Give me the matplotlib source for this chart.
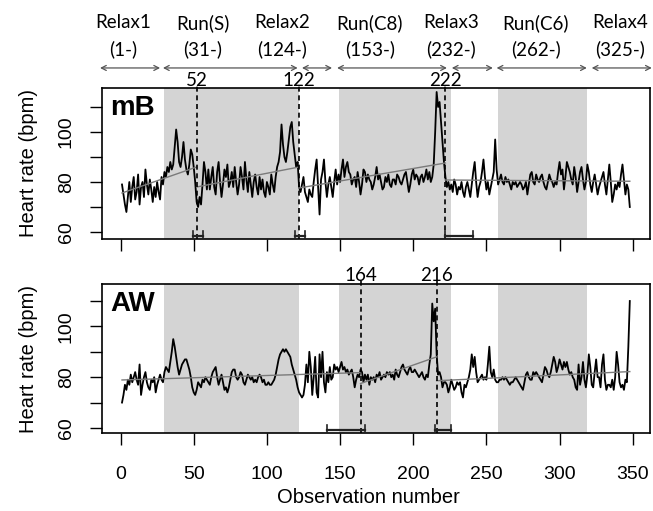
import numpy as np
import matplotlib
matplotlib.use("Agg")
import matplotlib.pyplot as plt
import matplotlib.transforms as mtransforms

# ---------------- data ----------------
hr_mB = [
    79, 75, 71, 68, 74, 80, 72, 78, 82, 73,
    76, 83, 71, 78, 80, 74, 85, 79, 75, 81,
    77, 72, 78, 74, 80, 76, 73, 82, 79, 84,
    82, 86, 84, 88, 85, 87, 94, 101, 96, 88,
    86, 90, 96, 89, 85, 83, 87, 93, 91, 86,
    80, 72, 70, 74, 71, 79, 88, 84, 77, 85,
    77, 82, 86, 78, 75, 84, 88, 80, 74, 79,
    85, 82, 87, 78, 80, 84, 78, 86, 80, 75,
    79, 86, 82, 77, 88, 81, 76, 84, 79, 74,
    80, 83, 78, 75, 82, 77, 81, 76, 74, 80,
    78, 75, 83, 79, 76, 82, 86, 88, 92, 103,
    95, 90, 88, 92, 97, 102, 104, 96, 91, 86,
    88, 78, 76, 79, 82, 76, 74, 72, 77, 75,
    74, 80, 85, 89, 78, 67, 81, 84, 89, 80,
    74, 79, 82, 78, 74, 80, 85, 79, 83, 80,
    85, 89, 82, 86, 88, 84, 83, 79, 81, 82,
    78, 84, 80, 75, 79, 85, 84, 80, 83, 81,
    80, 77, 79, 82, 86, 81, 83, 80, 77, 78,
    82, 80, 83, 79, 78, 81, 81, 79, 83, 82,
    80, 79, 81, 83, 84, 80, 76, 79, 83, 85,
    81, 83, 82, 79, 82, 83, 80, 82, 85, 81,
    84, 80, 82, 87, 100, 116, 110, 112, 104, 96,
    88, 82, 78, 80, 77, 79, 76, 81, 79, 75,
    78, 77, 80, 76, 74, 78, 80, 77, 74, 79,
    84, 88, 80, 74, 78, 80, 84, 89, 82, 77,
    80, 75, 78, 81, 84, 97, 85, 79, 81, 83,
    80, 79, 82, 80, 81, 79, 77, 80, 79, 80,
    78, 79, 80, 79, 77, 78, 80, 75, 79, 83,
    84, 80, 79, 83, 81, 80, 82, 83, 80, 78,
    77, 80, 83, 81, 80, 78, 80, 79, 84, 88,
    83, 85, 77, 82, 88, 86, 84, 81, 79, 86,
    82, 76, 80, 84, 86, 81, 77, 80, 87, 84,
    79, 76, 80, 83, 79, 75, 78, 80, 82, 84,
    79, 75, 81, 87, 80, 72, 75, 79, 77, 80,
    78, 83, 87, 81, 75, 79, 77, 70,
]

hr_AW = [
    70, 73, 77, 75, 79, 77, 81, 78, 80, 82,
    79, 77, 85, 73, 77, 80, 82, 78, 76, 75,
    79, 78, 80, 74, 77, 79, 81, 79, 78, 82,
    84, 83, 82, 86, 90, 95, 92, 88, 84, 81,
    83, 85, 86, 87, 87, 85, 83, 80, 76, 74,
    73, 75, 78, 77, 76, 79, 78, 80, 79, 78,
    77, 80, 82, 83, 84, 80, 77, 79, 81, 78,
    75, 76, 74, 76, 79, 82, 83, 83, 80, 79,
    80, 82, 81, 78, 77, 79, 81, 80, 79, 80,
    78, 79, 78, 80, 81, 80, 78, 79, 77, 77,
    78, 77, 77, 78, 79, 81, 84, 87, 89, 90,
    91, 90, 91, 90, 89, 88, 85, 83, 81, 79,
    76, 74, 73, 72, 73, 77, 85, 78, 90, 84,
    73, 80, 88, 74, 72, 89, 80, 90, 78, 74,
    82, 78, 84, 79, 80, 85, 83, 84, 82, 84,
    86, 83, 84, 82, 83, 81, 82, 83, 80, 76,
    79, 81, 80, 83, 82, 78, 81, 79, 81, 77,
    80, 79, 80, 78, 81, 80, 82, 79, 80, 81,
    80, 82, 81, 82, 80, 81, 79, 83, 81, 80,
    82, 84, 85, 83, 82, 81, 83, 84, 82, 82,
    83, 82, 81, 80, 81, 82, 80, 79, 81, 80,
    85, 89, 109, 102, 107, 89, 81, 82, 80, 76,
    78, 78, 77, 74, 76, 79, 77, 75, 76, 78,
    77, 78, 74, 72, 77, 76, 78, 80, 83, 89,
    84, 88, 82, 78, 79, 80, 81, 79, 80, 79,
    85, 92, 82, 80, 83, 79, 78, 78, 79, 79,
    80, 79, 80, 79, 78, 77, 78, 78, 79, 80,
    79, 78, 77, 76, 75, 78, 81, 82, 80, 79,
    79, 82, 81, 82, 81, 80, 79, 78, 81, 84,
    83, 81, 80, 82, 85, 88, 86, 82, 84, 87,
    85, 83, 86, 84, 86, 83, 81, 82, 80, 79,
    76, 75, 85, 77, 80, 86, 79, 76, 81, 89,
    84, 77, 76, 82, 87, 80, 80, 76, 85, 89,
    79, 75, 77, 77, 76, 79, 75, 80, 90, 85,
    78, 76, 77, 75, 79, 78, 92, 110,
]

# segmented-regression fits: [x_start, x_end], [y_start, y_end]
trend_mB_x = [[1, 52], [52, 122], [122, 222], [222, 348]]
trend_mB_y = [[75.6, 86.0], [78.0, 86.0], [77.6, 87.6], [80.8, 80.3]]
trend_AW_x = [[1, 164], [164, 216], [216, 348]]
trend_AW_y = [[78.9, 81.8], [77.5, 88.0], [78.6, 82.2]]

# change points and their confidence intervals
cp_mB = [52, 122, 222]
ci_mB = [[49.7, 56.4], [119, 126], [221.6, 240.8]]
cp_AW = [164, 216]
ci_AW = [[140.8, 167], [214.8, 226]]

# experimental phases
phase_names = ["Relax1", "Run(S)", "Relax2", "Run(C8)", "Relax3", "Run(C6)", "Relax4"]
phase_starts = ["(1-)", "(31-)", "(124-)", "(153-)", "(232-)", "(262-)", "(325-)"]
phase_label_x = [1.7, 56.4, 110.3, 170.4, 225.7, 283.8, 341.2]
phase_arrow_from = [-14, 29, 124, 148, 226.4, 257, 322]
phase_arrow_to = [27, 121, 144.5, 223, 254.4, 318.6, 363]
run_band_from = [30, 149, 258]
run_band_to = [122, 226, 319]

panel_names = ["mB", "AW"]
x_ticks = [0, 50, 100, 150, 200, 250, 300, 350]
y_ticks_major = [60, 80, 100]
y_ticks_minor = [70, 90, 110]

# ---------------- figure ----------------
plt.rcParams['font.family'] = ['Liberation Sans', 'DejaVu Sans']
fig = plt.figure(figsize=(6.53, 5.11), dpi=100)
ax1 = fig.add_axes([0.1557, 0.5323, 0.8397, 0.2955])
ax2 = fig.add_axes([0.1557, 0.1526, 0.8397, 0.2916])

hdr_font = ['Lato', 'DejaVu Sans']

def draw_panel(ax, hr, tx, ty, cps, cis, name, ylim, show_xlabels):
    obs = np.arange(1, len(hr) + 1)
    for a, b in zip(run_band_from, run_band_to):
        ax.axvspan(a, b, color='#d4d4d4', lw=0, zorder=0)
    ax.plot(obs, hr, color='black', lw=1.3, zorder=3)
    for xs, ys in zip(tx, ty):
        ax.plot(xs, ys, color='#7a7a7a', lw=1.0, zorder=4)
    ax.set_xlim(-12.9, 361.8)
    ax.set_ylim(*ylim)
    for cp, (lo, hi) in zip(cps, cis):
        ax.plot([cp, cp], [ylim[0], ylim[1] + 1.5], color='black', lw=1.2,
                ls=(0, (3, 2.2)), zorder=5, clip_on=False)
        yci = ylim[0] + 1.2
        ax.plot([lo, hi], [yci, yci], color='#222222', lw=1.6, zorder=5)
        ax.plot([lo, lo], [ylim[0], ylim[0] + 3.2], color='#222222', lw=1.2, zorder=5)
        ax.plot([hi, hi], [ylim[0], ylim[0] + 3.2], color='#222222', lw=1.2, zorder=5)
    ax.text(0.015, 0.865, name, transform=ax.transAxes, fontsize=20,
            fontweight='bold', ha='left', va='center', zorder=6)
    ax.set_xticks(x_ticks)
    ax.set_yticks(y_ticks_major)
    ax.set_yticks(y_ticks_minor, minor=True)
    ax.set_yticklabels([str(v) for v in y_ticks_major], rotation=90, va='center')
    ax.tick_params(axis='both', which='both', direction='out', length=8.4,
                   width=1.0, labelsize=14)
    ax.tick_params(axis='y', pad=11)
    ax.tick_params(axis='x', pad=15, labelbottom=show_xlabels)
    for s in ax.spines.values():
        s.set_linewidth(1.2)
    ax.set_ylabel("Heart rate (bpm)", fontsize=14.5)
    ax.yaxis.label.set_va('center')
    ax.yaxis.set_label_coords(-0.134, 0.5)

draw_panel(ax1, hr_mB, trend_mB_x, trend_mB_y, cp_mB, ci_mB, panel_names[0],
           (57.2, 117.6), False)
draw_panel(ax2, hr_AW, trend_AW_x, trend_AW_y, cp_AW, ci_AW, panel_names[1],
           (58.0, 116.7), True)

ax2.set_xlabel("Observation number", fontsize=14.5)
ax2.xaxis.label.set_va('center')
ax2.xaxis.set_label_coords(0.486, -0.436)

# change point numbers
t1 = mtransforms.blended_transform_factory(ax1.transData, fig.transFigure)
t2 = mtransforms.blended_transform_factory(ax2.transData, fig.transFigure)
for cp in cp_mB:
    fig.text(cp, 0.8434, str(cp), fontsize=13.5, ha='center', va='center',
             family=hdr_font, transform=t1)
for cp in cp_AW:
    fig.text(cp, 0.4618, str(cp), fontsize=13.5, ha='center', va='center',
             family=hdr_font, transform=t2)

# phase header
for name, st, xl in zip(phase_names, phase_starts, phase_label_x):
    fig.text(xl, 0.955, name, fontsize=13.5, ha='center', va='center',
             family=hdr_font, transform=t1)
    fig.text(xl, 0.904, st, fontsize=13.5, ha='center', va='center',
             family=hdr_font, transform=t1)
for a, b in zip(phase_arrow_from, phase_arrow_to):
    ax1.annotate("", xy=(b, 0.867), xytext=(a, 0.867),
                 xycoords=('data', 'figure fraction'),
                 textcoords=('data', 'figure fraction'),
                 arrowprops=dict(arrowstyle='<->,head_length=0.35,head_width=0.18',
                                 lw=0.9, color='#555555',
                                 shrinkA=0, shrinkB=0),
                 annotation_clip=False)

fig.savefig("out.png", dpi=100)
